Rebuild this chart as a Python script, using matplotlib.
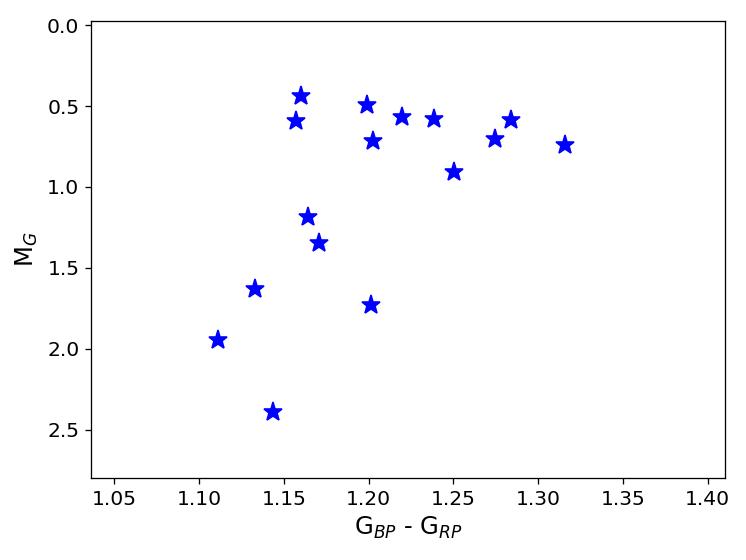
import numpy as np
import matplotlib
matplotlib.use('Agg')
import matplotlib.pyplot as plt

# colour index and absolute G magnitude
bp_rp = [1.1599, 1.1572, 1.1992, 1.2028, 1.2197, 1.2386, 1.2502, 1.2744,
         1.2842, 1.3158, 1.1644, 1.1709, 1.1328, 1.2014, 1.1110, 1.1436]
m_g = [0.437, 0.593, 0.492, 0.718, 0.566, 0.581, 0.910, 0.706,
       0.585, 0.739, 1.184, 1.345, 1.633, 1.729, 1.946, 2.390]

xticks = [1.05, 1.10, 1.15, 1.20, 1.25, 1.30, 1.35, 1.40]
yticks = [0.0, 0.5, 1.0, 1.5, 2.0, 2.5]

fig = plt.figure(figsize=(6.4, 4.8), dpi=116.7)
ax = fig.add_axes([0.1214, 0.1459, 0.8496, 0.8166])

ax.plot(bp_rp, m_g, '*', color='blue', markersize=12, linestyle='none')

ax.set_xlim(1.0361, 1.4104)
ax.set_ylim(2.80, -0.025)
ax.set_xticks(xticks)
ax.set_yticks(yticks)
ax.tick_params(labelsize=12.5)

ax.set_xlabel(r'G$_{BP}$ - G$_{RP}$', fontsize=15)
ax.set_ylabel(r'M$_G$', fontsize=15)

fig.savefig('out.png', dpi=116.7)
